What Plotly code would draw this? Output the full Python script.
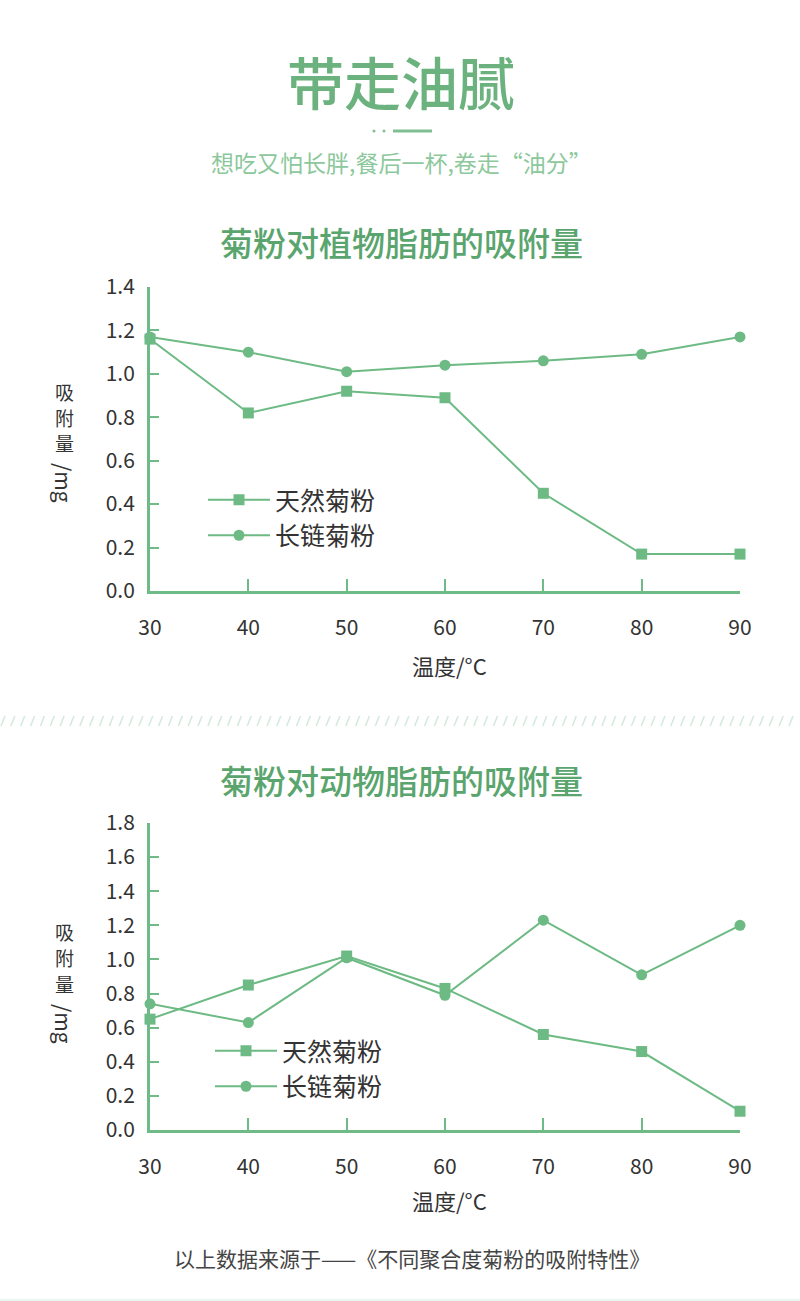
import plotly.graph_objects as go

W, H = 800, 1301

temps = [30, 40, 50, 60, 70, 80, 90]
plant_natural = [1.16, 0.82, 0.92, 0.89, 0.45, 0.17, 0.17]
plant_longchain = [1.17, 1.10, 1.01, 1.04, 1.06, 1.09, 1.17]
animal_natural = [0.65, 0.85, 1.02, 0.83, 0.56, 0.46, 0.11]
animal_longchain = [0.74, 0.63, 1.01, 0.79, 1.23, 0.91, 1.20]

series_names = ["天然菊粉", "长链菊粉"]
plant_yticks = [0.0, 0.2, 0.4, 0.6, 0.8, 1.0, 1.2, 1.4]
animal_yticks = [0.0, 0.2, 0.4, 0.6, 0.8, 1.0, 1.2, 1.4, 1.6, 1.8]

GREEN = "#6dba84"
AXIS = "#6fbb87"
TITLE_GREEN = "#5aa56e"
DARK = "#333333"
FONT = "Noto Sans CJK SC"


def px(x):
    return x / W


def py(y):
    return 1 - y / H


fig = go.Figure()

for i, (nat, lc, xa, ya, lg) in enumerate([
    (plant_natural, plant_longchain, "x", "y", "legend"),
    (animal_natural, animal_longchain, "x2", "y2", "legend2"),
]):
    fig.add_trace(go.Scatter(
        x=temps, y=nat, name=series_names[0], xaxis=xa, yaxis=ya, legend=lg,
        legendgroup=f"a{i}", mode="lines+markers", cliponaxis=False,
        line=dict(color=GREEN, width=2),
        marker=dict(symbol="square", size=11, color=GREEN)))
    fig.add_trace(go.Scatter(
        x=temps, y=lc, name=series_names[1], xaxis=xa, yaxis=ya, legend=lg,
        legendgroup=f"b{i}", mode="lines+markers", cliponaxis=False,
        line=dict(color=GREEN, width=2),
        marker=dict(symbol="circle", size=11, color=GREEN)))

xcommon = dict(range=[30, 90], tickvals=temps, ticks="inside", ticklen=12,
               tickwidth=2, tickcolor=AXIS, showline=True, linecolor=AXIS,
               linewidth=3, showgrid=False, zeroline=False, automargin=False,
               tickfont=dict(family=FONT, size=21, color=DARK),
               ticklabelstandoff=16, fixedrange=True)
ycommon = dict(ticks="inside", ticklen=9, tickwidth=2, tickcolor=AXIS,
               showline=True, linecolor=AXIS, linewidth=3, showgrid=False,
               zeroline=False, tickformat=".1f", automargin=False,
               tickfont=dict(family=FONT, size=21, color=DARK),
               ticklabelstandoff=8, fixedrange=True)

legfont = dict(family=FONT, size=25, color=DARK)
fig.update_layout(
    width=W, height=H, margin=dict(l=0, r=0, t=0, b=0, autoexpand=False),
    paper_bgcolor="white", plot_bgcolor="white",
    xaxis=dict(domain=[px(150), px(740)], anchor="y", **xcommon),
    yaxis=dict(domain=[py(591), py(287)], anchor="x", range=[0, 1.4],
               tickvals=plant_yticks, **ycommon),
    xaxis2=dict(domain=[px(150), px(740)], anchor="y2", **xcommon),
    yaxis2=dict(domain=[py(1130), py(823)], anchor="x2", range=[0, 1.8],
                tickvals=animal_yticks, **ycommon),
    legend=dict(x=px(203), y=py(477), xanchor="left", yanchor="top",
                font=legfont, itemwidth=62, tracegroupgap=0,
                bgcolor="rgba(0,0,0,0)"),
    legend2=dict(x=px(210), y=py(1028), xanchor="left", yanchor="top",
                 font=legfont, itemwidth=62, tracegroupgap=0,
                 bgcolor="rgba(0,0,0,0)"),
    showlegend=True,
)


def text(t, x, y, size, color, weight=400, angle=0):
    return dict(text=t, x=px(x), y=py(y), xref="paper", yref="paper",
                xanchor="center", yanchor="middle", showarrow=False,
                textangle=angle,
                font=dict(family=FONT, size=size, color=color, weight=weight))


ann = [
    text("带走油腻", 401, 80, 57, "#6cb27f", 500),
    text("想吃又怕长胖,餐后一杯,卷走“油分”", 402, 162, 23, "#8cc89c"),
    text("菊粉对植物脂肪的吸附量", 401, 242, 33, TITLE_GREEN, 500),
    text("菊粉对动物脂肪的吸附量", 401, 780, 33, TITLE_GREEN, 500),
]
ytitle_chars = ["吸", "附", "量"]
for yx, ychars, ym in [(665, (391, 417, 443), 483), (1200, (931, 957, 983), 1024)]:
    ann.append(text("温度/°C", 449, yx, 22, DARK))
    for ch, yy in zip(ytitle_chars, ychars):
        ann.append(text(ch, 64, yy, 19, DARK))
    ann.append(text("/mg", 64, ym, 21, DARK, angle=90))
ann.append(text("以上数据来源于——《不同聚合度菊粉的吸附特性》", 412, 1258, 21, "#444444"))
fig.update_layout(annotations=ann)

shapes = []
# dots + line under header
for cx in (374, 384):
    shapes.append(dict(type="circle", xref="paper", yref="paper",
                       x0=px(cx - 1.5), x1=px(cx + 1.5), y0=py(132.5), y1=py(129.5),
                       fillcolor="#7fbf92", line=dict(width=0)))
shapes.append(dict(type="line", xref="paper", yref="paper", x0=px(393), x1=px(432),
                   y0=py(131), y1=py(131), line=dict(color="#7fbf92", width=3)))
# slashed separator
path = ""
for k in range(81):
    x0 = k * 9.85 + 1
    path += f"M{px(x0):.5f},{py(726):.5f} L{px(x0 + 4):.5f},{py(716):.5f} "
shapes.append(dict(type="path", xref="paper", yref="paper", path=path,
                   line=dict(color="#d3e9dc", width=1.5)))
# bottom strip
shapes.append(dict(type="rect", xref="paper", yref="paper", x0=0, x1=1,
                   y0=0, y1=py(1299), fillcolor="#e8f7f2", line=dict(width=0)))
fig.update_layout(shapes=shapes)

fig.write_html("out.html")
